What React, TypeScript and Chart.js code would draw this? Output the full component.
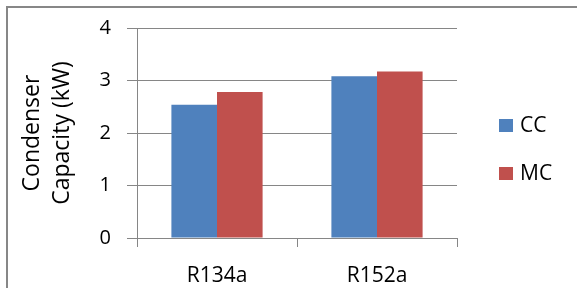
import React, { useEffect, useRef } from "react";
import { Chart, registerables } from "chart.js";

Chart.register(...registerables);

const categories = ["R134a", "R152a"];
const seriesNames = ["CC", "MC"];
const ccValues = [2.54, 3.08];
const mcValues = [2.78, 3.17];
const yTicks = [0, 1, 2, 3, 4];
const titleLines = ["Condenser", "Capacity (kW)"];

const FONT = "'Open Sans', sans-serif";
const GRID = "#868686";

const legendPlugin = {
  id: "sideLegend",
  afterDraw(chart: any) {
    const ctx = chart.ctx;
    const area = chart.chartArea;
    const x0 = area.right + 42;
    const ys = [125, 173];
    ctx.save();
    chart.data.datasets.forEach((ds: any, i: number) => {
      const y = ys[i];
      ctx.fillStyle = ds.backgroundColor;
      ctx.fillRect(x0, y - 6, 14, 13);
      ctx.fillStyle = "#000";
      ctx.font = `21px ${FONT}`;
      ctx.textBaseline = "middle";
      ctx.textAlign = "left";
      ctx.fillText(ds.label, x0 + 21, y + 1);
    });
    ctx.restore();
  },
};

export default function App() {
  const ref = useRef<HTMLCanvasElement>(null);
  useEffect(() => {
    if (!ref.current) return;
    const chart = new Chart(ref.current, {
      type: "bar",
      data: {
        labels: categories,
        datasets: [
          { label: seriesNames[0], data: ccValues, backgroundColor: "#4F81BD" },
          { label: seriesNames[1], data: mcValues, backgroundColor: "#C0504D" },
        ],
      },
      options: {
        animation: false,
        responsive: false,
        maintainAspectRatio: false,
        layout: { padding: { top: 25, right: 120, left: 0, bottom: 0 } },
        datasets: { bar: { categoryPercentage: 0.57, barPercentage: 1 } },
        plugins: { legend: { display: false }, tooltip: { enabled: false } },
        scales: {
          x: {
            offset: true,
            grid: {
              offset: true,
              drawOnChartArea: false,
              drawTicks: true,
              tickLength: 9,
              color: GRID,
            },
            border: { color: GRID, width: 1 },
            ticks: {
              color: "#000",
              font: { family: FONT, size: 21 },
              padding: 16,
              maxRotation: 0,
            },
            afterFit: (s: any) => {
              s.height = 50;
            },
          },
          y: {
            min: 0,
            max: 4,
            afterBuildTicks: (s: any) => {
              s.ticks = yTicks.map((v) => ({ value: v }));
            },
            grid: { color: GRID, tickLength: 10, lineWidth: 1 },
            border: { color: GRID, width: 1 },
            ticks: {
              color: "#000",
              font: { family: FONT, size: 20 },
              padding: 16,
            },
            title: {
              display: true,
              text: titleLines,
              color: "#000",
              font: { family: FONT, size: 23, lineHeight: "30px" },
              padding: { top: 17, bottom: 0 },
            },
            afterFit: (s: any) => {
              s.width = 137;
            },
          },
        },
      },
      plugins: [legendPlugin],
    });
    return () => chart.destroy();
  }, []);

  return (
    <div
      style={{
        position: "fixed",
        left: 0,
        top: 0,
        width: 577,
        height: 288,
        overflow: "hidden",
        background: "#fff",
      }}
    >
      <div
        style={{
          position: "absolute",
          left: 6,
          top: 6,
          width: 700,
          height: 400,
          borderLeft: "2px solid #878787",
          borderTop: "2px solid #878787",
        }}
      />
      <canvas
        ref={ref}
        width={577}
        height={288}
        style={{ position: "absolute", left: 0, top: 0, width: 577, height: 288 }}
      />
    </div>
  );
}
